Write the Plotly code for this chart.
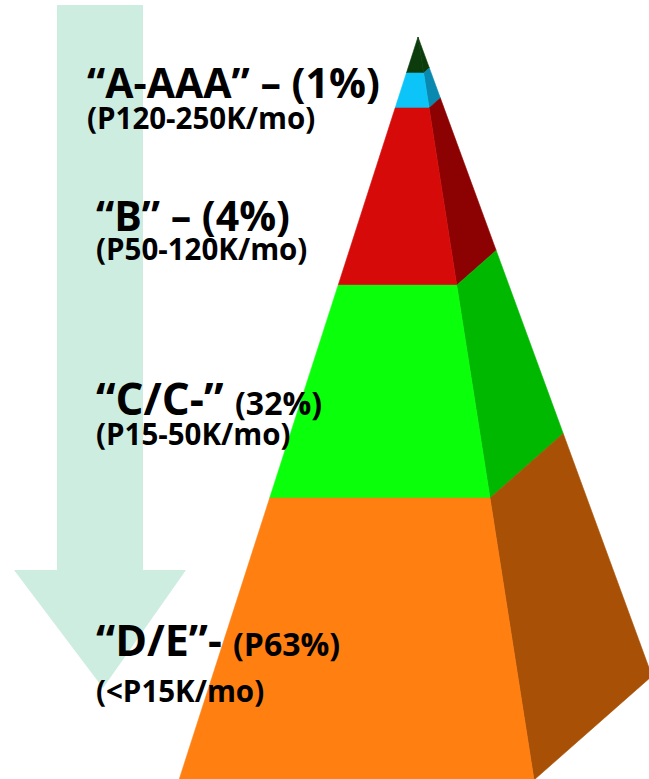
import plotly.graph_objects as go

# Income segments, top of the pyramid first
tiers = ["A-AAA", "B", "C/C-", "D/E"]
shares = [1, 4, 32, 63]
incomes = ["(P120-250K/mo)", "(P50-120K/mo)", "(P15-50K/mo)", "(<P15K/mo)"]

# Pyramid drawing geometry (canvas units, y grows downward)
W, H = 649, 779
apex = (418, 37)
base_left = (179, 780)
base_ridge = (534, 780)
base_outer = (652, 676)
# band edges as fractions of the way from apex to base
band_edges = [0.0, 0.0485, 0.0956, 0.334, 0.6205, 1.0]
front_colors = ["#0c3c0c", "#0cc4f7", "#d70a0a", "#0aff0a", "#ff7f11"]
side_colors = ["#0c3c0c", "#0a89b0", "#8c0202", "#00b800", "#a85106"]

# Down arrow behind the labels
arrow_color = "#ccede0"
shaft_x = (57, 143)
shaft_top = 5
head_y = 570
head_x = (14, 186)
tip = (103, 688)


def along(p, t):
    return (apex[0] + (p[0] - apex[0]) * t, apex[1] + (p[1] - apex[1]) * t)


fig = go.Figure()

ax = [shaft_x[0], shaft_x[1], shaft_x[1], head_x[1], tip[0], head_x[0], shaft_x[0], shaft_x[0]]
ay = [shaft_top, shaft_top, head_y, head_y, tip[1], head_y, head_y, shaft_top]
fig.add_trace(go.Scatter(x=ax, y=ay, mode="lines", fill="toself", fillcolor=arrow_color,
                         line=dict(width=0), hoverinfo="skip"))

for i in range(len(band_edges) - 1):
    t0, t1 = band_edges[i], band_edges[i + 1]
    fl0, fl1 = along(base_left, t0), along(base_left, t1)
    fr0, fr1 = along(base_ridge, t0), along(base_ridge, t1)
    so0, so1 = along(base_outer, t0), along(base_outer, t1)
    fx = [fl0[0], fr0[0], fr1[0], fl1[0], fl0[0]]
    fy = [fl0[1], fr0[1], fr1[1], fl1[1], fl0[1]]
    sx = [fr0[0], so0[0], so1[0], fr1[0], fr0[0]]
    sy = [fr0[1], so0[1], so1[1], fr1[1], fr0[1]]
    fig.add_trace(go.Scatter(x=sx, y=sy, mode="lines", fill="toself", fillcolor=side_colors[i],
                             line=dict(width=0.6, color=side_colors[i]), hoverinfo="skip"))
    fig.add_trace(go.Scatter(x=fx, y=fy, mode="lines", fill="toself", fillcolor=front_colors[i],
                             line=dict(width=0.6, color=front_colors[i]), hoverinfo="skip"))


def span(txt, size):
    return f"<span style='font-size:{size}px'>{txt}</span>"


# Label block per tier: headline, then the income range on the next line
sub_size = 29.5
headlines = [
    span(f"“{tiers[0]}” – ({shares[0]}%)", 41),
    span(f"“{tiers[1]}” – ({shares[1]}%)", 41),
    span(f"“{tiers[2]}” ", 44) + span(f"({shares[2]}%)", 32),
    span(f"“{tiers[3]}”- ", 43) + span(f"(P{shares[3]}%)", 32),
]
label_x = [86, 95, 95, 95]
first_baseline = [97, 230, 414, 655]
line_gap = [31, 29, 30, 46]
head_ascent = [41, 41, 44, 43]

for i in range(len(tiers)):
    base_size = line_gap[i] / 1.3
    text = f"<b>{headlines[i]}<br>{span(incomes[i], sub_size)}</b>"
    fig.add_annotation(x=label_x[i], y=first_baseline[i] - 1.07 * head_ascent[i],
                       text=text, showarrow=False, align="left",
                       xanchor="left", yanchor="top", borderpad=0,
                       font=dict(size=base_size, color="black", family="Open Sans"))

fig.update_layout(
    width=W, height=H, margin=dict(l=0, r=0, t=0, b=0),
    paper_bgcolor="white", plot_bgcolor="white", showlegend=False,
    xaxis=dict(range=[0, W], visible=False, fixedrange=True),
    yaxis=dict(range=[H, 0], visible=False, fixedrange=True),
)

fig.write_html("out.html", config={"displayModeBar": False})
